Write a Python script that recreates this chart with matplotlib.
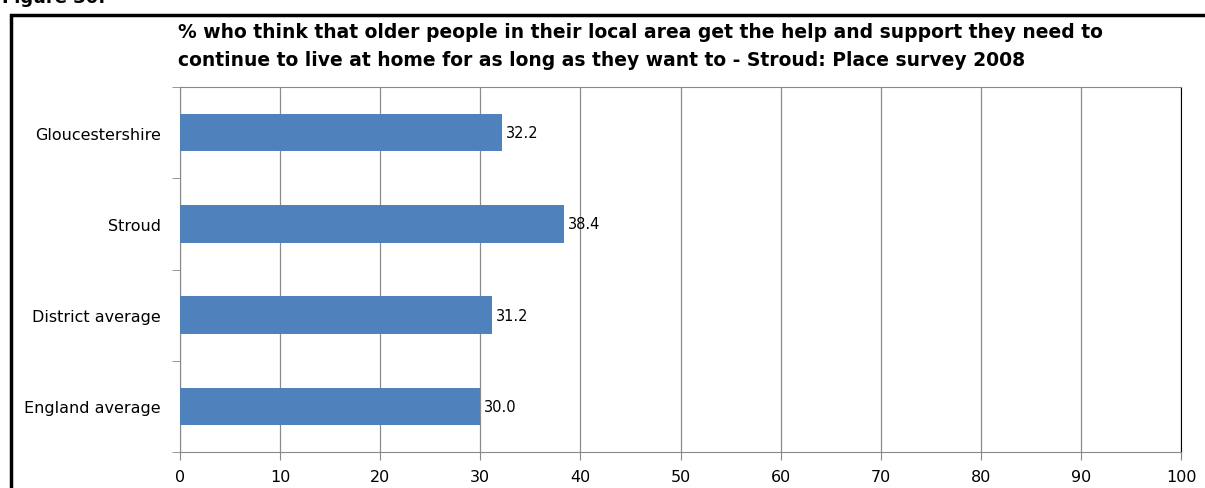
import matplotlib.pyplot as plt
from matplotlib.patches import Rectangle

categories = ['Gloucestershire', 'Stroud', 'District average', 'England average']
values = [32.2, 38.4, 31.2, 30.0]
xticks = [0, 10, 20, 30, 40, 50, 60, 70, 80, 90, 100]

W, H = 1205, 489
fig = plt.figure(figsize=(W / 100, H / 100), dpi=100)
plt.rcParams['font.family'] = 'DejaVu Sans'

# plot area in pixel terms
left, right, top, bottom = 180, 1181, 88, 453
ax = fig.add_axes([left / W, 1 - bottom / H, (right - left) / W, (bottom - top) / H])

ypos = list(range(len(categories)))
bars = ax.barh(ypos, values, height=0.41, color='#4F81BD', zorder=3)
for y, v in zip(ypos, values):
    ax.text(v + 0.4, y, f'{v:.1f}', va='center', ha='left', fontsize=10.5, color='black', zorder=4)

ax.set_xlim(0, 100)
ax.set_ylim(len(categories) - 0.5, -0.5)
ax.set_xticks(xticks)
ax.set_xticklabels([str(t) for t in xticks], fontsize=11.5)
ax.set_yticks(ypos)
ax.set_yticklabels(categories, fontsize=11.5)
ax.tick_params(axis='y', length=0, pad=14)
ax.tick_params(axis='x', length=6, color='#878787', pad=6)
# category boundary ticks on the y axis
ax.set_yticks([i - 0.5 for i in range(len(categories) + 1)], minor=True)
ax.tick_params(axis='y', which='minor', length=6, color='#878787')
ax.grid(axis='x', color='#8c8c8c', linewidth=0.9, zorder=0)

for side in ['left', 'bottom', 'top']:
    ax.spines[side].set_color('#878787')
ax.spines['right'].set_color('black')

ax.set_title('% who think that older people in their local area get the help and support they need to\n'
             'continue to live at home for as long as they want to - Stroud: Place survey 2008',
             loc='left', fontsize=13.5, fontweight='bold', x=-0.002, y=1.0, pad=16,
             linespacing=1.6)

# caption above the framed chart, partly cut at the top edge
fig.text(2 / W, 1 + 2 / H, 'Figure 30:', fontsize=13, fontweight='bold', va='center', ha='left')

# outer frame around the chart
fig.patches.append(Rectangle((11 / W, -0.1), 1.2, 1 - 16 / H + 0.1, transform=fig.transFigure,
                             fill=False, edgecolor='black', linewidth=2.5))

fig.savefig('out.png', dpi=100)
